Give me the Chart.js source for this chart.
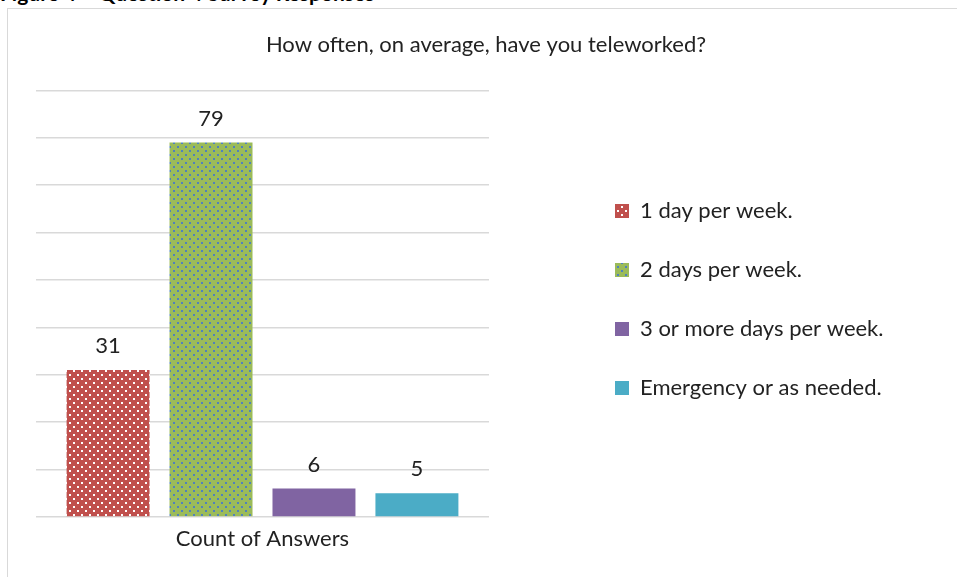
<!DOCTYPE html>
<html>
<head>
<meta charset="utf-8">
<script src="https://cdn.jsdelivr.net/npm/chart.js@4.4.1/dist/chart.umd.min.js"></script>
<style>
  html, body { margin: 0; padding: 0; background: #fff; overflow: hidden; }
  body { width: 957px; height: 577px; position: relative; font-family: Lato, sans-serif; }
  #heading { position: absolute; left: 0; top: -16px; font: bold 21px Lato, sans-serif; color: #000; white-space: nowrap; line-height: 18px; }
  #box { position: absolute; left: 7px; top: 8px; width: 950px; height: 569px; border-left: 1px solid #d9d9d9; border-top: 1px solid #d9d9d9; background: #fff; }
  #box canvas { display: block; }
</style>
</head>
<body>
<div id="heading">Figure 4 – Question 4 Survey Responses</div>
<div id="box"><canvas id="chart" width="949" height="568"></canvas></div>
<script>
// Datos
var categories = ['Count of Answers'];
var seriesNames = ['1 day per week.', '2 days per week.', '3 or more days per week.', 'Emergency or as needed.'];
var seriesValues = [31, 79, 6, 5];
var yMax = 90;
var yStep = 10;

var ctx = document.getElementById('chart').getContext('2d');

// Relleno punteado como en Excel
function dotPattern(bg, dot) {
    var c = document.createElement('canvas');
    c.width = 8;
    c.height = 8;
    var g = c.getContext('2d');
    g.fillStyle = bg;
    g.fillRect(0, 0, 8, 8);
    g.fillStyle = dot;
    g.fillRect(1, 1, 2, 2);
    g.fillRect(5, 5, 2, 2);
    return ctx.createPattern(c, 'repeat');
}

var colors = [
    dotPattern('#C0504D', '#ffffff'),
    dotPattern('#9BBB59', '#4F81BD'),
    '#8064A2',
    '#4BACC6'
];

var datasets = seriesNames.map(function (name, i) {
    return {
        label: name,
        data: [seriesValues[i]],
        backgroundColor: colors[i],
        borderWidth: 0
    };
});

// Etiquetas de valor encima de cada barra
var valueLabels = {
    id: 'valueLabels',
    afterDatasetsDraw: function (chart) {
        var c = chart.ctx;
        c.save();
        c.font = '22px Lato, sans-serif';
        c.fillStyle = '#222';
        c.textAlign = 'center';
        c.textBaseline = 'middle';
        chart.data.datasets.forEach(function (ds, i) {
            chart.getDatasetMeta(i).data.forEach(function (bar, j) {
                c.fillText(ds.data[j], bar.x, bar.y - 24);
            });
        });
        c.restore();
    }
};

// Coloca la leyenda a la derecha, separada del área del gráfico
var LEGEND_W = 447;
var legendPlace = {
    id: 'legendPlace',
    beforeLayout: function (chart) {
        var lg = chart.legend;
        if (lg && !lg._patched) {
            var fit = lg.fit;
            lg.fit = function () {
                fit.call(this);
                this.width = LEGEND_W;
            };
            lg._patched = true;
        }
    },
    afterLayout: function (chart) {
        var lg = chart.legend;
        lg.left = 570;
        lg.width = lg.right - lg.left;
        lg.top = 13;
        lg.bottom = 568;
        lg.height = lg.bottom - lg.top;
    }
};

var myChart = new Chart(ctx, {
    type: 'bar',
    data: {
        labels: categories,
        datasets: datasets
    },
    plugins: [valueLabels, legendPlace],
    options: {
        responsive: false,
        animation: false,
        layout: {
            padding: { left: 28, right: 21, top: 0, bottom: 20 }
        },
        datasets: {
            bar: { categoryPercentage: 0.909, barPercentage: 0.806 }
        },
        scales: {
            x: {
                grid: { display: false, drawTicks: false },
                border: { display: false },
                ticks: { color: '#222', font: { family: 'Lato', size: 22 }, padding: 9 },
                afterFit: function (s) { s.height = 40; }
            },
            y: {
                min: 0,
                max: yMax,
                ticks: { display: false, stepSize: yStep },
                grid: { color: '#d9d9d9', lineWidth: 1.5, drawTicks: false },
                border: { display: false },
                afterFit: function (s) { s.width = 0; }
            }
        },
        plugins: {
            title: {
                display: true,
                text: 'How often, on average, have you teleworked?',
                color: '#222',
                font: { family: 'Lato', size: 22, weight: 'normal' },
                padding: { top: 23, bottom: 32 }
            },
            legend: {
                position: 'right',
                labels: {
                    boxWidth: 14,
                    boxHeight: 14,
                    padding: 37,
                    color: '#222',
                    font: { family: 'Lato', size: 22 }
                }
            },
            tooltip: { enabled: false }
        }
    }
});
</script>
</body>
</html>
